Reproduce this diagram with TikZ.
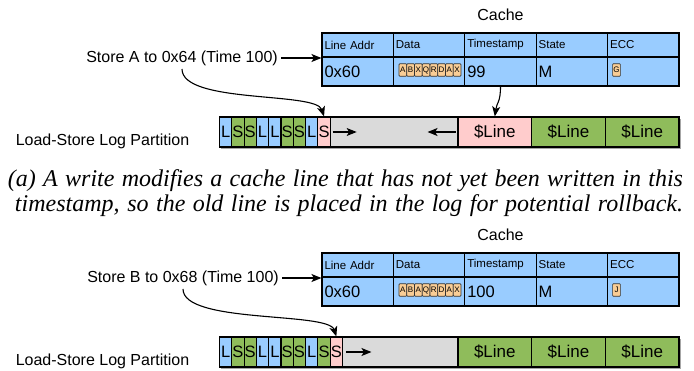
\documentclass[tikz,border=0pt]{standalone}
\usepackage{fontspec}
\setmainfont{Liberation Sans}
\newfontfamily\captionserif{Liberation Serif}
\usetikzlibrary{arrows.meta}
\definecolor{lslBlue}{HTML}{99CCFF}
\definecolor{lslGreen}{HTML}{8FBC5B}
\definecolor{lslPink}{HTML}{FFCCCC}
\definecolor{lslGray}{HTML}{DADADA}
\definecolor{lslTan}{HTML}{F9CD95}
\tikzset{
  lsl cell/.style={draw=black, line width=1.1pt, inner sep=0pt, minimum height=30pt, font=\fontsize{16.5}{19}\selectfont},
  lsl line/.style={lsl cell, minimum width=73.67pt, font=\fontsize{17}{20}\selectfont},
  lsl head/.style={draw=black, line width=1.1pt, fill=lslBlue, minimum height=24pt, text width=66.4pt, inner xsep=2.5pt, inner ysep=0pt, align=left, font=\fontsize{11.5}{13}\selectfont},
  lsl value/.style={lsl head, minimum height=29pt, font=\fontsize{16.5}{19}\selectfont},
  lsl byte/.style={draw=black!80, line width=.7pt, fill=lslTan, rounded corners=.8pt, minimum width=7.75pt, minimum height=12.5pt, inner sep=0pt, font=\fontsize{8}{9}\selectfont},
  lsl arrow/.style={draw=black, line width=1.1pt, -{Stealth[length=10pt,width=8pt,inset=2.5pt]}},
  lsl label/.style={font=\fontsize{16}{19}\selectfont},
  lsl caption/.style={font=\captionserif\itshape\fontsize{24}{28}\selectfont, inner sep=0pt},
}

\begin{document}
\begin{tikzpicture}[x=1pt,y=-1pt]
  \useasboundingbox (0,0) rectangle (694,370);
  % first store: old line goes to the log
  \node[lsl label] (cacheA) at (500.5,15) {Cache};
  \foreach \t [count=\k] in {Line Addr,Data,Timestamp,State,ECC}
    \node[lsl head] (hA\k) at (286.3+71.4*\k,45) {\t};
  \foreach \t [count=\k] in {0x60,{},99,M,{}}
    \node[lsl value] (vA\k) at (286.3+71.4*\k,71.5) {\t};
  \foreach \c [count=\i] in {A,B,X,Q,R,D,A,X}
    \node[lsl byte] (dA\i) at (395.1+7.75*\i,70) {\c};
  \node[lsl byte] (eccA) at (616.5,70) {G};
  \node[lsl label] (storeA) at (182,58) {Store A to 0x64 (Time 100)};
  \node[lsl label] (partA) at (102.5,141) {Load-Store Log Partition};
  \fill[black!35] (221,119) rectangle (680.5,148.5);
  \foreach \c/\f [count=\i] in {L/lslBlue,S/lslGreen,S/lslGreen,L/lslBlue,L/lslBlue,S/lslGreen,S/lslGreen,L/lslBlue,S/lslPink}
    \node[lsl cell, fill=\f, minimum width=12.3pt] (logA\i) at (213.35+12.3*\i,132) {\c};
  \node[lsl cell, fill=lslGray, minimum width=127.8pt] (gapA) at (394.1,132) {};
  \node[lsl line, fill=lslPink] (lineA1) at (494.8,132) {\$Line};
  \node[lsl line, fill=lslGreen] (lineA2) at (568.5,132) {\$Line};
  \node[lsl line, fill=lslGreen] (lineA3) at (642.2,132) {\$Line};
  \coordinate (gA1) at ([xshift=3pt]gapA.west);
  \coordinate (gA2) at ([xshift=27pt]gapA.west);
  \coordinate (gA3) at ([xshift=-3pt]gapA.east);
  \coordinate (gA4) at ([xshift=-31pt]gapA.east);
  \draw[lsl arrow] (storeA.east) -- (storeA.east -| hA1.south west);
  \draw[lsl arrow] (storeA.south) .. controls +(0,35) and +(-8,-25) .. (logA9.north);
  \draw[lsl arrow] (vA3.south) .. controls +(0,16) and +(2,-14) .. (lineA1.north);
  \draw[lsl arrow] (gA1) -- (gA2);
  \draw[lsl arrow] (gA3) -- (gA4);

  \node[lsl caption] (capA1) at (345.5,181) {\hbox to 675pt{(a) A write modifies a cache line that has not yet been written in this}};
  \node[lsl caption] (capA2) at (349,206) {\hbox to 668pt{timestamp, so the old line is placed in the log for potential rollback.}};

  % second store: line already logged in this timestamp
  \begin{scope}[yshift=-220pt]
    \node[lsl label] (cacheB) at (500.5,15) {Cache};
    \foreach \t [count=\k] in {Line Addr,Data,Timestamp,State,ECC}
      \node[lsl head] (hB\k) at (286.3+71.4*\k,45) {\t};
    \foreach \t [count=\k] in {0x60,{},100,M,{}}
      \node[lsl value] (vB\k) at (286.3+71.4*\k,71.5) {\t};
    \foreach \c [count=\i] in {A,B,A,Q,R,D,A,X}
      \node[lsl byte] (dB\i) at (395.1+7.75*\i,70) {\c};
    \node[lsl byte] (eccB) at (616.5,70) {J};
    \node[lsl label] (storeB) at (183,58) {Store B to 0x68 (Time 100)};
    \node[lsl label] (partB) at (102.5,141) {Load-Store Log Partition};
    \fill[black!35] (221,119) rectangle (680.5,148.5);
    \foreach \c/\f [count=\i] in {L/lslBlue,S/lslGreen,S/lslGreen,L/lslBlue,L/lslBlue,S/lslGreen,S/lslGreen,L/lslBlue,S/lslGreen,S/lslPink}
      \node[lsl cell, fill=\f, minimum width=12.3pt] (logB\i) at (213.35+12.3*\i,132) {\c};
    \node[lsl cell, fill=lslGray, minimum width=115.5pt] (gapB) at (400.25,132) {};
    \node[lsl line, fill=lslGreen] (lineB1) at (494.8,132) {\$Line};
    \node[lsl line, fill=lslGreen] (lineB2) at (568.5,132) {\$Line};
    \node[lsl line, fill=lslGreen] (lineB3) at (642.2,132) {\$Line};
    \coordinate (gB1) at ([xshift=4.5pt]gapB.west);
    \coordinate (gB2) at ([xshift=29.5pt]gapB.west);
    \draw[lsl arrow] (storeB.east) -- (storeB.east -| hB1.south west);
    \draw[lsl arrow] (storeB.south) .. controls +(0,35) and +(-8,-25) .. (logB10.north);
    \draw[lsl arrow] (gB1) -- (gB2);
  \end{scope}
\end{tikzpicture}
\end{document}
